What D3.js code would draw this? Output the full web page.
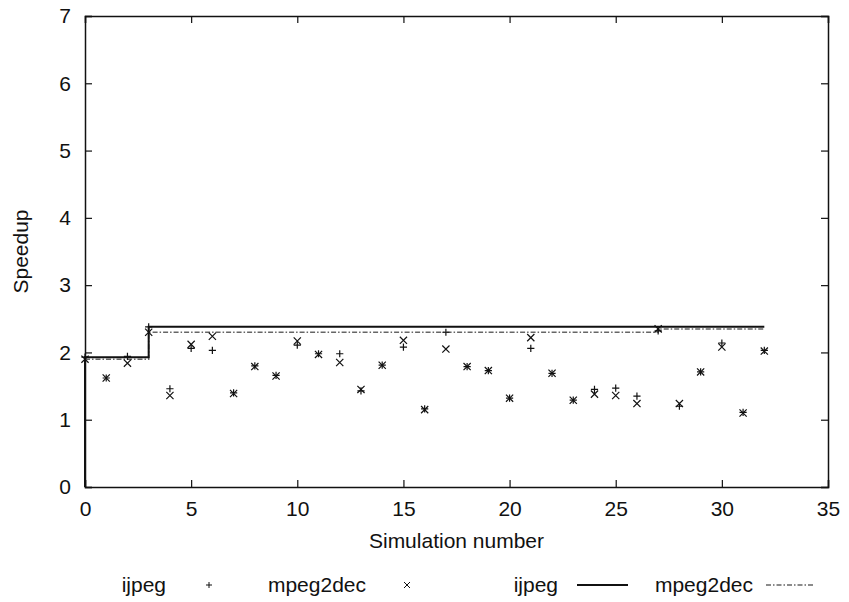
<!DOCTYPE html>
<html>
<head>
<meta charset="utf-8">
<script src="https://cdn.jsdelivr.net/npm/d3@7"></script>
<style>
  body { margin: 0; background: #fff; }
  text { font-family: "Liberation Sans", Arial, sans-serif; fill: #111; }
</style>
</head>
<body>
<div class="wrapper"></div>
<script>
// simulation numbers and measured speedups
var sims = d3.range(0, 33);
var ijpeg = [1.93, 1.62, 1.94, 2.38, 1.46, 2.06, 2.03, 1.40, 1.80, 1.66, 2.11, 1.98, 1.98, 1.43, 1.81, 2.08, 1.16,
             2.30, 1.79, 1.73, 1.32, 2.06, 1.69, 1.29, 1.45, 1.47, 1.35, 2.32, 1.20, 1.71, 2.14, 1.11, 2.03];
var mpeg2dec = [1.90, 1.62, 1.84, 2.30, 1.36, 2.12, 2.24, 1.39, 1.79, 1.65, 2.17, 1.97, 1.85, 1.45, 1.81, 2.18, 1.15,
                2.05, 1.79, 1.73, 1.32, 2.22, 1.69, 1.29, 1.38, 1.36, 1.24, 2.35, 1.24, 1.71, 2.08, 1.10, 2.02];

// best-so-far step lines
var bestIjpegX = [0, 0, 3, 32];
var bestIjpegY = [0, 1.93, 2.38, 2.38];
var bestMpegX = [0, 3, 27, 32];
var bestMpegY = [1.90, 2.30, 2.35, 2.35];

var xTicks = [0, 5, 10, 15, 20, 25, 30, 35];
var yTicks = [0, 1, 2, 3, 4, 5, 6, 7];

var W = 849, H = 602;
var m = {left: 85, right: 21, top: 16, bottom: 115};
var fs = "21px";

var svg = d3.select(".wrapper").append("svg")
    .attr("width", W)
    .attr("height", H);

var x = d3.scaleLinear().domain([0, 35]).range([m.left, W - m.right]);
var y = d3.scaleLinear().domain([0, 7]).range([H - m.bottom, m.top]);

var tl = 7;
// axes with inward ticks, mirrored on all sides
svg.append("g").attr("transform", "translate(0," + y(0) + ")")
    .call(d3.axisBottom(x).tickValues(xTicks).tickSize(-tl).tickPadding(14).tickFormat(d3.format("d")));
svg.append("g").attr("transform", "translate(0," + y(7) + ")")
    .call(d3.axisTop(x).tickValues(xTicks).tickSize(-tl).tickFormat(""));
svg.append("g").attr("transform", "translate(" + x(0) + ",0)")
    .call(d3.axisLeft(y).tickValues(yTicks).tickSize(-tl).tickPadding(14).tickFormat(d3.format("d")));
svg.append("g").attr("transform", "translate(" + x(35) + ",0)")
    .call(d3.axisRight(y).tickValues(yTicks).tickSize(-tl).tickFormat(""));

svg.selectAll(".domain").attr("stroke", "#111").attr("stroke-width", 1.5);
svg.selectAll(".tick line").attr("stroke", "#111").attr("stroke-width", 1.2);
svg.selectAll(".tick text").style("font-size", fs).attr("fill", "#111")
    .style("font-family", "'Liberation Sans', Arial, sans-serif");

// axis titles
svg.append("text")
    .attr("x", (x(0) + x(35)) / 2)
    .attr("y", 548)
    .attr("text-anchor", "middle")
    .style("font-size", fs)
    .text("Simulation number");

svg.append("text")
    .attr("transform", "translate(28," + y(3.5) + ")rotate(-90)")
    .attr("text-anchor", "middle")
    .style("font-size", fs)
    .text("Speedup");

var plot = svg.append("g");

// step lines
var stepLine = d3.line()
    .x(function(d) { return x(d[0]); })
    .y(function(d) { return y(d[1]); })
    .curve(d3.curveStepAfter);

plot.append("path")
    .datum(d3.zip(bestMpegX, bestMpegY))
    .attr("d", stepLine)
    .attr("fill", "none")
    .attr("stroke", "#666")
    .attr("stroke-width", 1.5)
    .attr("stroke-dasharray", "5,2,1.5,2");

plot.append("path")
    .datum(d3.zip(bestIjpegX, bestIjpegY))
    .attr("d", stepLine)
    .attr("fill", "none")
    .attr("stroke", "#111")
    .attr("stroke-width", 2);

var s = 3.6;
function plus(cx, cy) {
    return "M" + (cx - s) + "," + cy + "H" + (cx + s) + "M" + cx + "," + (cy - s) + "V" + (cy + s);
}
function cross(cx, cy) {
    return "M" + (cx - s) + "," + (cy - s) + "L" + (cx + s) + "," + (cy + s) +
           "M" + (cx - s) + "," + (cy + s) + "L" + (cx + s) + "," + (cy - s);
}

plot.selectAll(".pt-ij")
    .data(d3.zip(sims, ijpeg))
    .enter().append("path")
    .attr("class", "pt-ij")
    .attr("d", function(d) { return plus(x(d[0]), y(d[1])); })
    .attr("stroke", "#111")
    .attr("stroke-width", 1.2);

plot.selectAll(".pt-mp")
    .data(d3.zip(sims, mpeg2dec))
    .enter().append("path")
    .attr("class", "pt-mp")
    .attr("d", function(d) { return cross(x(d[0]), y(d[1])); })
    .attr("stroke", "#111")
    .attr("stroke-width", 1.2);

// legend
var ly = 585;
var leg = svg.append("g");
function legText(xe, label) {
    leg.append("text")
        .attr("x", xe)
        .attr("y", ly)
        .attr("dy", "0.35em")
        .attr("text-anchor", "end")
        .style("font-size", fs)
        .text(label);
}
legText(166, "ijpeg");
s = 3;
leg.append("path").attr("d", plus(209, ly)).attr("stroke", "#111").attr("stroke-width", 1);
legText(366, "mpeg2dec");
leg.append("path").attr("d", cross(407, ly)).attr("stroke", "#111").attr("stroke-width", 1);
legText(558, "ijpeg");
leg.append("line").attr("x1", 577).attr("x2", 628).attr("y1", ly).attr("y2", ly)
    .attr("stroke", "#111").attr("stroke-width", 2);
legText(753, "mpeg2dec");
leg.append("line").attr("x1", 766).attr("x2", 815).attr("y1", ly).attr("y2", ly)
    .attr("stroke", "#666").attr("stroke-width", 1.5).attr("stroke-dasharray", "5,2,1.5,2");
</script>
</body>
</html>
